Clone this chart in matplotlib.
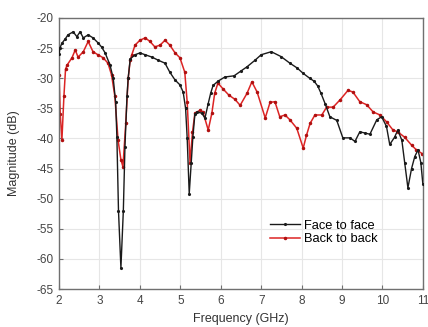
import matplotlib
matplotlib.use("Agg")
import matplotlib.pyplot as plt

freq_ff = [2.00, 2.02, 2.07, 2.15, 2.22, 2.35, 2.44, 2.52, 2.60, 2.72, 2.84, 2.96, 3.05, 3.14,
           3.26, 3.34, 3.40, 3.43, 3.47, 3.53, 3.59, 3.63, 3.68, 3.71, 3.76, 3.88, 4.00, 4.13,
           4.30, 4.45, 4.62, 4.74, 4.87, 4.99, 5.07, 5.13, 5.17, 5.22, 5.27, 5.31, 5.36, 5.41,
           5.53, 5.61, 5.69, 5.75, 5.81, 5.93, 6.10, 6.33, 6.50, 6.65, 6.85, 7.00, 7.25, 7.49,
           7.71, 7.89, 8.04, 8.20, 8.31, 8.40, 8.48, 8.58, 8.70, 8.87, 9.02, 9.20, 9.32, 9.44,
           9.57, 9.69, 9.86, 9.98, 10.10, 10.18, 10.30, 10.38, 10.48, 10.55, 10.63, 10.72,
           10.80, 10.88, 10.95, 11.00]
mag_ff = [-26.0, -25.0, -24.2, -23.5, -22.8, -22.3, -23.1, -22.3, -23.3, -22.8, -23.3, -24.1, -24.8, -25.8,
          -27.8, -30.0, -34.0, -39.7, -52.0, -61.5, -52.0, -41.4, -33.0, -30.0, -26.8, -26.1, -25.8, -26.1,
          -26.5, -27.0, -27.5, -29.0, -30.3, -31.1, -32.3, -35.0, -40.0, -49.2, -44.0, -39.8, -36.0, -35.6,
          -35.8, -36.6, -34.2, -32.5, -31.2, -30.5, -29.8, -29.6, -28.8, -28.1, -27.0, -26.1, -25.6, -26.4,
          -27.5, -28.3, -29.2, -30.0, -30.5, -31.3, -32.5, -34.2, -36.4, -37.0, -39.9, -39.9, -40.5, -38.9,
          -39.1, -39.3, -36.9, -36.4, -38.0, -41.0, -39.8, -38.6, -40.3, -44.0, -48.2, -45.0,
          -43.0, -41.9, -44.0, -47.6]

freq_bb = [2.00, 2.03, 2.07, 2.12, 2.16, 2.20, 2.32, 2.40, 2.47, 2.60, 2.72, 2.84, 2.96, 3.09,
           3.21, 3.30, 3.38, 3.46, 3.53, 3.58, 3.65, 3.71, 3.76, 3.80, 3.88, 4.00, 4.13, 4.25,
           4.37, 4.50, 4.62, 4.74, 4.87, 4.99, 5.11, 5.17, 5.24, 5.30, 5.36, 5.49, 5.56, 5.69,
           5.78, 5.85, 5.93, 6.06, 6.20, 6.35, 6.48, 6.65, 6.77, 6.90, 7.10, 7.22, 7.34, 7.46,
           7.59, 7.71, 7.88, 8.04, 8.12, 8.21, 8.33, 8.50, 8.62, 8.78, 8.95, 9.15, 9.27, 9.44,
           9.61, 9.77, 9.94, 10.11, 10.26, 10.38, 10.55, 10.72, 10.84, 10.98]
mag_bb = [-29.5, -36.0, -40.3, -33.0, -28.5, -27.8, -26.6, -25.3, -26.5, -25.6, -23.9, -25.6, -26.1, -26.6,
          -27.5, -29.5, -33.0, -40.3, -43.5, -44.7, -37.5, -30.0, -27.0, -26.1, -24.5, -23.7, -23.3, -23.9,
          -24.8, -24.5, -23.7, -24.5, -25.8, -26.6, -29.0, -34.0, -44.0, -39.0, -35.8, -35.3, -35.6, -38.6,
          -35.8, -32.5, -30.8, -31.8, -32.8, -33.5, -34.5, -32.5, -30.6, -32.3, -36.6, -34.0, -33.9, -36.4,
          -36.1, -36.9, -38.3, -41.6, -39.5, -37.5, -36.1, -36.1, -34.8, -34.8, -33.6, -32.0, -32.3, -33.9,
          -34.4, -35.6, -36.1, -37.3, -38.6, -38.9, -39.8, -41.1, -41.9, -42.5]

labels = ["Face to face", "Back to back"]
xticks = [2, 3, 4, 5, 6, 7, 8, 9, 10, 11]
yticks = [-65, -60, -55, -50, -45, -40, -35, -30, -25, -20]

plt.rcParams['font.family'] = ['Liberation Sans', 'DejaVu Sans']
plt.rcParams['axes.unicode_minus'] = False

fig = plt.figure(figsize=(4.28, 3.27), dpi=100)
ax = fig.add_axes([0.138, 0.116, 0.850, 0.829])

ax.plot(freq_ff, mag_ff, color='#1a1a1a', lw=1.0, marker='.', ms=2.5, label=labels[0], zorder=3)
ax.plot(freq_bb, mag_bb, color='#dc2424', lw=1.1, marker='.', ms=3, mfc='#b01010', mec='#b01010',
        label=labels[1], zorder=2)

ax.set_xlim(2, 11)
ax.set_ylim(-65, -20)
ax.set_xticks(xticks)
ax.set_yticks(yticks)
ax.grid(True, color='#e6e6e6', lw=0.8)
ax.set_axisbelow(True)

for s in ax.spines.values():
    s.set_color('#707070')
    s.set_linewidth(1.0)
ax.tick_params(direction='in', length=3, color='#707070', labelsize=8.5, labelcolor='#444444', pad=4)

ax.set_xlabel("Frequency (GHz)", fontsize=9, color='#333333')
ax.set_ylabel("Magnitude (dB)", fontsize=9, color='#333333')
ax.xaxis.set_label_coords(0.5, -0.089)
ax.yaxis.set_label_coords(-0.107, 0.5)

ax.legend(loc='center left', bbox_to_anchor=(0.548, 0.2085), frameon=False, fontsize=9.3,
          handlelength=2.3, handletextpad=0.3, labelspacing=0.12, borderpad=0.4)

fig.savefig("out.png", dpi=100)
